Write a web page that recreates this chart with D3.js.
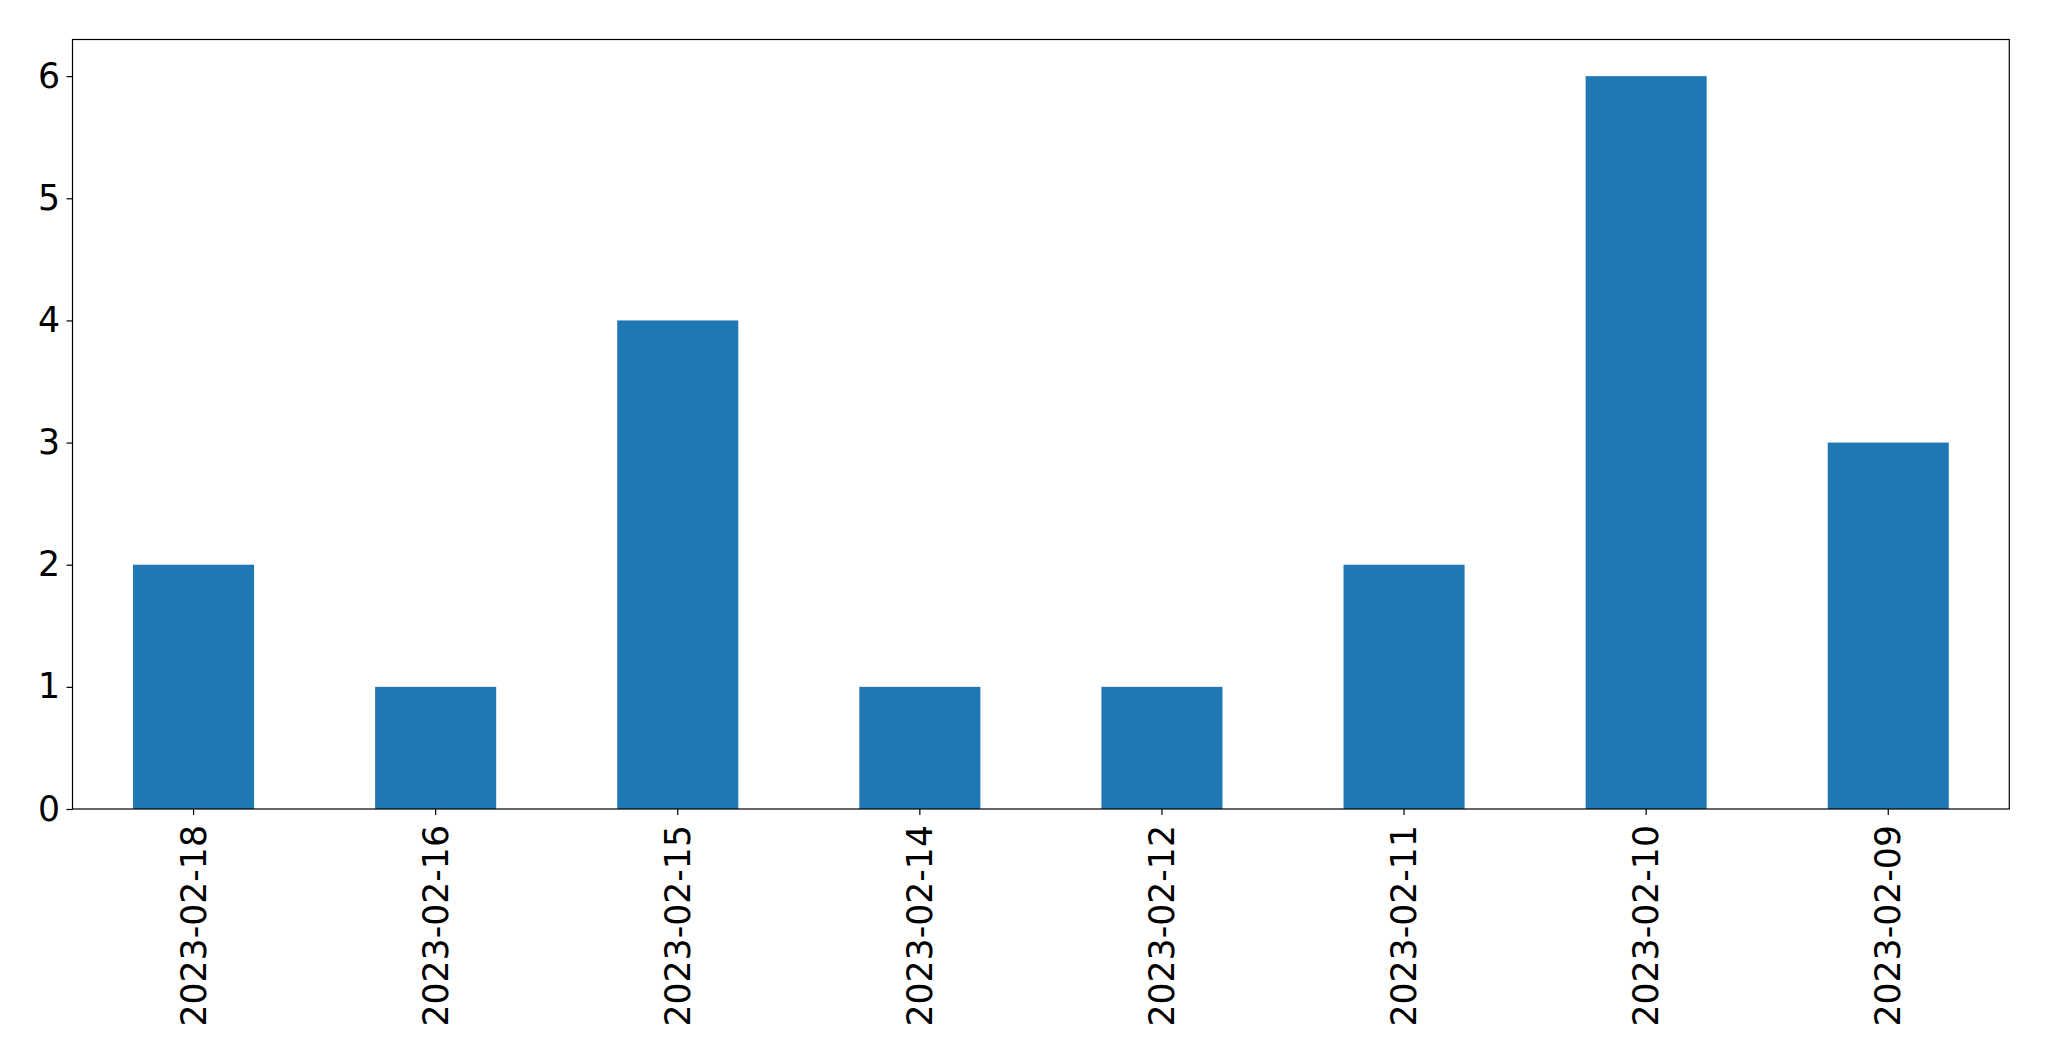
<!DOCTYPE html>
<html><head><meta charset="utf-8">
<script src="https://cdn.jsdelivr.net/npm/d3@7"></script>
<style>body{margin:0;background:#fff;} svg{display:block;}</style>
</head><body>
<svg id="chart" width="2049" height="1061"></svg>
<script>
const categories = ["2023-02-18","2023-02-16","2023-02-15","2023-02-14","2023-02-12","2023-02-11","2023-02-10","2023-02-09"];
const values = [2,1,4,1,1,2,6,3];
const yTicks = [0,1,2,3,4,5,6];

const svg = d3.select("#chart");
const margin = {left:72.5, top:39.5, right:2049-2009.3, bottom:1061-809};
const W = 2049 - margin.left - margin.right;
const H = 1061 - margin.top - margin.bottom;
const g = svg.append("g").attr("transform",`translate(${margin.left},${margin.top})`);

const x = d3.scaleBand().domain(categories).range([0,W]).paddingInner(0.5).paddingOuter(0.25);
const y = d3.scaleLinear().domain([0,6.3]).range([H,0]);

g.selectAll("rect.bar").data(values).join("rect")
  .attr("class","bar")
  .attr("x",(d,i)=>x(categories[i]))
  .attr("width",x.bandwidth())
  .attr("y",d=>y(d))
  .attr("height",d=>H-y(d))
  .attr("fill","#1f77b4");

const font = "DejaVu Sans, sans-serif";
const fs = 34.7;

const yAxis = g.append("g").call(d3.axisLeft(y).tickValues(yTicks).tickFormat(d3.format("d")).tickSize(6).tickPadding(6.5));
yAxis.select(".domain").remove();
yAxis.selectAll("text").attr("font-family",font).attr("font-size",fs).attr("fill","#000");
yAxis.selectAll("line").attr("stroke","#000").attr("stroke-width",1.2);

const xAxis = g.append("g").attr("transform",`translate(0,${H})`).call(d3.axisBottom(x).tickSize(6).tickPadding(0));
xAxis.select(".domain").remove();
xAxis.selectAll("line").attr("stroke","#000").attr("stroke-width",1.2);
xAxis.selectAll("text")
  .attr("font-family",font).attr("font-size",fs).attr("fill","#000")
  .attr("transform","rotate(-90)")
  .attr("text-anchor","end")
  .attr("x",-16).attr("y",0).attr("dy","0.35em");

g.append("rect").attr("x",0).attr("y",0).attr("width",W).attr("height",H)
  .attr("fill","none").attr("stroke","#000").attr("stroke-width",1.2);
</script>
</body></html>
